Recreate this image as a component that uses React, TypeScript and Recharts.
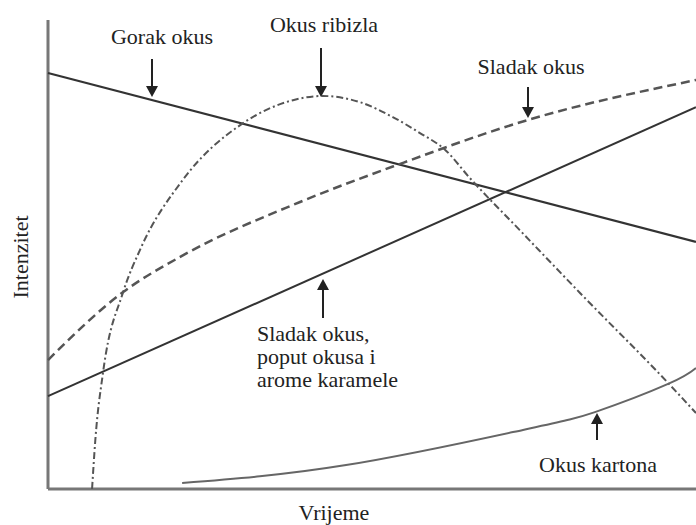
import React from "react";
import { LineChart, Line, XAxis, YAxis, ReferenceLine } from "recharts";

// time (0-100) vs intensity (0-100)
const gorakOkus = [
  [0, 88.7],
  [100, 52.7],
];
const okusRibizla = [
  [6.8, 0],
  [7.3, 10.4],
  [8.5, 24.9],
  [11.6, 42.0],
  [14.2, 51.0],
  [20.8, 65.9],
  [30.1, 78.0],
  [37.8, 82.9],
  [42.4, 83.8],
  [48.1, 82.5],
  [53.2, 79.3],
  [57.4, 75.9],
  [61.3, 72.3],
  [65.1, 66.3],
  [72.8, 55.2],
  [82.1, 41.8],
  [95.7, 22.6],
  [100, 16.2],
];
const sladakOkus = [
  [0, 27.5],
  [11.6, 42.0],
  [20.4, 49.5],
  [38.9, 61.2],
  [53.9, 69.1],
  [74.1, 78.7],
  [100, 87.2],
];
const karamela = [
  [0, 19.8],
  [100, 81.4],
];
const okusKartona = [
  [20.7, 1.3],
  [46.0, 5.1],
  [73.3, 12.6],
  [84.4, 16.4],
  [95.7, 22.4],
  [100, 25.8],
];

const toRows = (pts: number[][]) => pts.map(([t, v]) => ({ t, v }));

const FONT = "'Liberation Serif', 'Times New Roman', serif";
const TXT = "#222";
const AXIS = "#777";

const Arrow = ({ x, y1, y2 }: { x: number; y1: number; y2: number }) => {
  // y2 is the tip
  const dir = y2 > y1 ? 1 : -1;
  const base = y2 - dir * 11;
  return (
    <g>
      <line x1={x} y1={y1} x2={x} y2={base} stroke="#222" strokeWidth={2} />
      <polygon
        points={`${x - 6},${base} ${x + 6},${base} ${x},${y2}`}
        fill="#222"
      />
    </g>
  );
};

const Annotations = () => (
  <svg
    width={696}
    height={525}
    style={{ position: "absolute", left: 0, top: 0, pointerEvents: "none" }}
  >
    <g fontFamily={FONT} fontSize={22} fill={TXT}>
      <text x={162} y={44} textAnchor="middle">
        Gorak okus
      </text>
      <text x={324} y={32} textAnchor="middle">
        Okus ribizla
      </text>
      <text x={531} y={74} textAnchor="middle">
        Sladak okus
      </text>
      <text x={257} y={341}>
        Sladak okus,
      </text>
      <text x={257} y={364}>
        poput okusa i
      </text>
      <text x={257} y={387}>
        arome karamele
      </text>
      <text x={598} y={472} textAnchor="middle">
        Okus kartona
      </text>
      <text x={334} y={520} textAnchor="middle">
        Vrijeme
      </text>
      <text
        x={20}
        y={257}
        textAnchor="middle"
        dominantBaseline="central"
        transform="rotate(-90 20 257)"
      >
        Intenzitet
      </text>
    </g>
    <Arrow x={152} y1={59} y2={97} />
    <Arrow x={321} y1={48} y2={97} />
    <Arrow x={528} y1={87} y2={118} />
    <Arrow x={323} y1={318} y2={279} />
    <Arrow x={597} y1={440} y2={413} />
  </svg>
);

export default function App() {
  return (
    <div
      style={{
        position: "absolute",
        left: 0,
        top: 0,
        width: 696,
        height: 525,
        background: "#fff",
      }}
    >
      <LineChart
        width={696}
        height={525}
        margin={{ top: 20, right: 0, bottom: 36, left: 48 }}
      >
        <XAxis type="number" dataKey="t" domain={[0, 100]} hide />
        <YAxis type="number" dataKey="v" domain={[0, 100]} hide />
        <ReferenceLine x={0} stroke={AXIS} strokeWidth={3} />
        <ReferenceLine y={0} stroke={AXIS} strokeWidth={3} />
        <Line
          data={toRows(gorakOkus)}
          dataKey="v"
          type="linear"
          stroke="#333"
          strokeWidth={2.2}
          dot={false}
          activeDot={false}
          isAnimationActive={false}
        />
        <Line
          data={toRows(karamela)}
          dataKey="v"
          type="linear"
          stroke="#333"
          strokeWidth={2}
          dot={false}
          activeDot={false}
          isAnimationActive={false}
        />
        <Line
          data={toRows(sladakOkus)}
          dataKey="v"
          type="monotone"
          stroke="#555"
          strokeWidth={2.5}
          strokeDasharray="9 5"
          dot={false}
          activeDot={false}
          isAnimationActive={false}
        />
        <Line
          data={toRows(okusRibizla)}
          dataKey="v"
          type="monotone"
          stroke="#555"
          strokeWidth={2}
          strokeDasharray="7 3 2 3"
          dot={false}
          activeDot={false}
          isAnimationActive={false}
        />
        <Line
          data={toRows(okusKartona)}
          dataKey="v"
          type="natural"
          stroke="#666"
          strokeWidth={2}
          dot={false}
          activeDot={false}
          isAnimationActive={false}
        />
      </LineChart>
      <Annotations />
    </div>
  );
}
